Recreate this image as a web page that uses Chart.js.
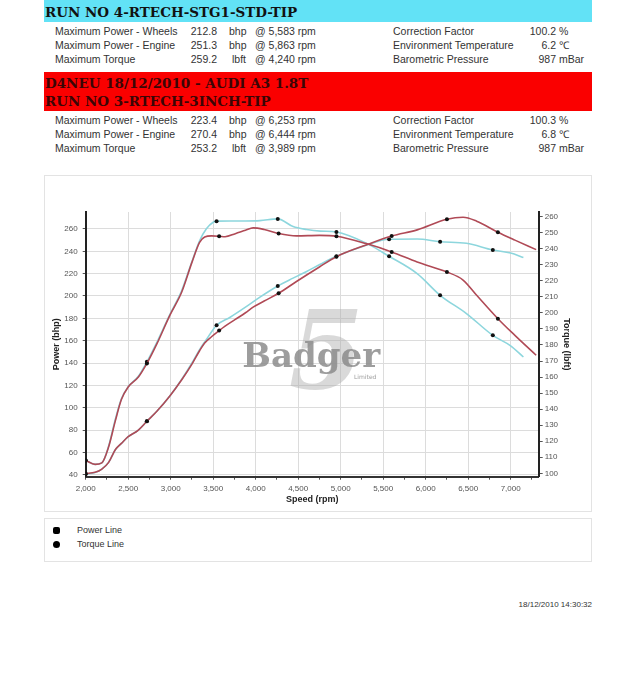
<!DOCTYPE html>
<html>
<head>
<meta charset="utf-8">
<script src="https://cdn.jsdelivr.net/npm/chart.js@4.4.0/dist/chart.umd.min.js"></script>
<style>
  body { margin: 0; width: 640px; height: 675px; position: relative; overflow: hidden; background: #fff;
         font-family: "Liberation Sans", Arial, sans-serif; }
  .band { position: absolute; left: 44px; width: 548px; font-family: "DejaVu Serif", serif; font-weight: bold;
          font-size: 13.5px; line-height: 18px; padding-left: 1px; box-sizing: border-box; }
  .cyan { top: 0; height: 22px; background: #62e2f6; color: #111; padding-top: 3px; }
  .red { top: 72px; height: 39px; background: #fa0000; color: #3a0606; padding-top: 2px; }
  .row { position: absolute; left: 0; width: 640px; height: 14px; font-size: 10.5px; line-height: 14px; color: #333; }
  .row span { position: absolute; white-space: nowrap; }
  .lab { left: 55px; }
  .val { left: 177px; width: 40px; text-align: right; }
  .unit { left: 229px; }
  .unit.t { left: 232px; }
  .at { left: 255px; }
  .rlab { left: 393px; }
  .rval { left: 516px; width: 40px; text-align: right; }
  .runit { left: 559px; }
  #chartBox { position: absolute; left: 44px; top: 175px; width: 548px; height: 337px;
              border: 1px solid #e3e3e3; box-sizing: border-box; }
  #chartInner { position: relative; width: 546px; height: 335px; }
  #legendBox { position: absolute; left: 44px; top: 518px; width: 548px; height: 44px;
               border: 1px solid #e3e3e3; box-sizing: border-box; font-size: 9px; color: #333; }
  .leg { position: absolute; left: 8px; height: 12px; line-height: 12px; }
  .leg i { position: absolute; left: 0; top: 3px; width: 7px; height: 7px; background: #000; }
  .leg b { position: absolute; left: 24px; font-weight: normal; white-space: nowrap; }
  #stamp { position: absolute; right: 48px; top: 600px; font-size: 8px; color: #333; }
</style>
</head>
<body>
<div class="band cyan">RUN NO 4-RTECH-STG1-STD-TIP</div>
<div class="row" style="top:24px"><span class="lab">Maximum Power - Wheels</span><span class="val">212.8</span><span class="unit">bhp</span><span class="at">@ 5,583 rpm</span><span class="rlab">Correction Factor</span><span class="rval">100.2</span><span class="runit">%</span></div>
<div class="row" style="top:38px"><span class="lab">Maximum Power - Engine</span><span class="val">251.3</span><span class="unit">bhp</span><span class="at">@ 5,863 rpm</span><span class="rlab">Environment Temperature</span><span class="rval">6.2</span><span class="runit">℃</span></div>
<div class="row" style="top:52px"><span class="lab">Maximum Torque</span><span class="val">259.2</span><span class="unit t">lbft</span><span class="at">@ 4,240 rpm</span><span class="rlab">Barometric Pressure</span><span class="rval">987</span><span class="runit">mBar</span></div>

<div class="band red">D4NEU 18/12/2010 - AUDI A3 1.8T<br>RUN NO 3-RTECH-3INCH-TIP</div>
<div class="row" style="top:113px"><span class="lab">Maximum Power - Wheels</span><span class="val">223.4</span><span class="unit">bhp</span><span class="at">@ 6,253 rpm</span><span class="rlab">Correction Factor</span><span class="rval">100.3</span><span class="runit">%</span></div>
<div class="row" style="top:127px"><span class="lab">Maximum Power - Engine</span><span class="val">270.4</span><span class="unit">bhp</span><span class="at">@ 6,444 rpm</span><span class="rlab">Environment Temperature</span><span class="rval">6.8</span><span class="runit">℃</span></div>
<div class="row" style="top:141px"><span class="lab">Maximum Torque</span><span class="val">253.2</span><span class="unit t">lbft</span><span class="at">@ 3,989 rpm</span><span class="rlab">Barometric Pressure</span><span class="rval">987</span><span class="runit">mBar</span></div>

<div id="chartBox"><div id="chartInner"><canvas id="dyno_chart"></canvas></div></div>

<div id="legendBox">
  <div class="leg" style="top:5px"><i style="border-radius:2px"></i><b>Power Line</b></div>
  <div class="leg" style="top:19px"><i style="border-radius:50%"></i><b>Torque Line</b></div>
</div>
<div id="stamp">18/12/2010 14:30:32</div>

<script>
// run 3 (red) - 3 inch
const rpmRun3 = [2000, 2110, 2190, 2270, 2350, 2420, 2500, 2620, 2720, 2840, 2990, 3130, 3250, 3340, 3400,
  3480, 3570, 3640, 3760, 3880, 3970, 4100, 4270, 4480, 4750, 4950, 5300, 5600, 5900, 6250, 6440, 6600,
  6850, 7050, 7300]
const torqueRun3 = [108, 105.6, 106.5, 116.5, 133, 146, 153.8, 160, 168.5, 181, 198.5, 213, 231.5, 244, 247.3,
  248, 247.8, 247.5, 249.4, 251.5, 253, 252, 249.5, 248, 248.3, 247.8, 243.2, 238, 231.7, 225.5, 220.5, 211,
  196.4, 186, 173.6]
const powerRun3 = [41, 42.1, 45, 51, 62.5, 68, 74, 80, 87.8, 97, 110.5, 125, 139, 151, 158,
  163.5, 169, 173, 179, 185, 190, 195.5, 202.4, 213, 226, 235.2, 245.7, 253.7, 259.2, 268.7, 270.5, 267,
  257.1, 250, 241.5]
const markersRun3 = [2000, 2720, 3570, 4270, 4950, 5600, 6250, 6850]

// run 4 (cyan) - stage 1 std
const rpmRun4 = [2000, 2110, 2190, 2270, 2350, 2420, 2500, 2620, 2720, 2840, 2990, 3130, 3250, 3340, 3420,
  3500, 3540, 3700, 3880, 4050, 4260, 4440, 4600, 4760, 4950, 5300, 5570, 5900, 6170, 6480, 6790, 7000, 7150]
const torqueRun4 = [108, 105.6, 106.5, 117, 134, 146.5, 154, 160.5, 169.5, 182, 199, 214, 232, 245, 252.5,
  256.5, 257.2, 257.3, 257.3, 257.5, 258.6, 253.8, 252, 251, 250.4, 243.5, 235.3, 224.5, 211, 199.6, 186,
  179.5, 172.5]
const powerRun4 = [40.5, 42, 45, 51, 62.5, 68, 74, 80, 87.8, 97, 110.5, 125.5, 140, 152, 161,
  170, 173.8, 181, 190, 199, 209, 216, 222, 228.4, 235.5, 245.5, 250.8, 251, 248.6, 247.2, 241.2,
  238.5, 234.5]
const markersRun4 = [2000, 2720, 3540, 4260, 4950, 5570, 6170, 6790]

const speedTicks = [2000, 2500, 3000, 3500, 4000, 4500, 5000, 5500, 6000, 6500, 7000]
const powerTicks = [40, 60, 80, 100, 120, 140, 160, 180, 200, 220, 240, 260]
const torqueTicks = [100, 110, 120, 130, 140, 150, 160, 170, 180, 190, 200, 210, 220, 230, 240, 250, 260]

const RED = '#b04a56'
const CYAN = '#8dd6dd'
const tickFont = { size: 8, family: 'Liberation Sans' }
const titleFont = { size: 9, weight: 'bold', family: 'Liberation Sans' }

const points = (rpm, vals) => rpm.map((x, i) => ({ x: x, y: vals[i] }))
const markerRadius = (marks) => (ctx) => (ctx.raw && marks.includes(ctx.raw.x) ? 2 : 0)

const line = (label, rpm, vals, marks, color, axis) => ({
  label: label,
  data: points(rpm, vals),
  yAxisID: axis,
  borderColor: color,
  borderWidth: 1.6,
  cubicInterpolationMode: 'monotone',
  pointRadius: markerRadius(marks),
  pointBackgroundColor: '#111',
  pointBorderWidth: 0,
})

// Badger logo behind the curves
const watermark = {
  id: 'watermark',
  beforeDatasetsDraw(chart) {
    const { ctx, chartArea } = chart
    const cx = (chartArea.left + chartArea.right) / 2
    const cy = (chartArea.top + chartArea.bottom) / 2
    ctx.save()
    ctx.textAlign = 'center'
    ctx.textBaseline = 'middle'
    ctx.fillStyle = 'rgba(170,170,170,0.45)'
    ctx.font = 'italic bold 108px "DejaVu Serif"'
    ctx.fillText('5', cx + 14, cy + 16)
    ctx.fillStyle = 'rgba(140,140,140,0.85)'
    ctx.font = 'bold 34px "DejaVu Serif"'
    ctx.fillText('Badger', cx - 1, cy + 14)
    ctx.font = '6px "DejaVu Sans"'
    ctx.fillText('Limited', cx + 53, cy + 33)
    ctx.restore()
  },
}

new Chart(document.getElementById('dyno_chart').getContext('2d'), {
  type: 'line',
  data: {
    datasets: [
      line('Run 3 Torque', rpmRun3, torqueRun3, markersRun3, RED, 'yTorque'),
      line('Run 3 Power', rpmRun3, powerRun3, markersRun3, RED, 'yPower'),
      line('Run 4 Torque', rpmRun4, torqueRun4, markersRun4, CYAN, 'yTorque'),
      line('Run 4 Power', rpmRun4, powerRun4, markersRun4, CYAN, 'yPower'),
    ],
  },
  options: {
    responsive: true,
    maintainAspectRatio: false,
    animation: false,
    layout: { padding: { left: 2.6, right: 15.6, top: 36, bottom: 1.6 } },
    plugins: { legend: { display: false }, tooltip: { enabled: false } },
    scales: {
      x: {
        type: 'linear',
        min: 2000,
        max: 7330,
        afterBuildTicks: (scale) => {
          const all = []
          speedTicks.forEach((v) => { all.push({ value: v }); all.push({ value: v + 250 }) })
          scale.ticks = all
        },
        afterFit: (scale) => { scale.height = 32.7 },
        border: { color: '#333', width: 2 },
        grid: {
          color: (ctx) => (ctx.tick && ctx.tick.value % 500 === 0 ? '#dcdcdc' : 'rgba(0,0,0,0)'),
          tickColor: '#555',
          tickLength: 3,
        },
        ticks: {
          autoSkip: false,
          maxRotation: 0,
          padding: 4,
          color: '#555',
          font: tickFont,
          callback: (v) => (v % 500 === 0 ? v.toLocaleString('en-US') : ''),
        },
        title: { display: true, text: 'Speed (rpm)', color: '#222', font: titleFont, padding: { top: 2, bottom: 4 } },
      },
      yPower: {
        position: 'left',
        min: 38.2,
        max: 275.2,
        afterBuildTicks: (scale) => { scale.ticks = powerTicks.map((v) => ({ value: v })) },
        afterFit: (scale) => { scale.width = 38.1 },
        border: { color: '#222', width: 2 },
        grid: { color: '#dcdcdc', tickColor: '#555', tickLength: 3 },
        ticks: { padding: 5, color: '#555', font: tickFont },
        title: { display: true, text: 'Power (bhp)', color: '#222', font: titleFont },
      },
      yTorque: {
        position: 'right',
        min: 97.9,
        max: 262.9,
        afterBuildTicks: (scale) => { scale.ticks = torqueTicks.map((v) => ({ value: v })) },
        afterFit: (scale) => { scale.width = 36.7 },
        border: { color: '#222', width: 2 },
        grid: { drawOnChartArea: false, tickColor: '#555', tickLength: 4 },
        ticks: { padding: 2, color: '#555', font: tickFont },
        title: { display: true, text: 'Torque (lbft)', color: '#222', font: titleFont },
      },
    },
  },
  plugins: [watermark],
})
</script>
</body>
</html>
